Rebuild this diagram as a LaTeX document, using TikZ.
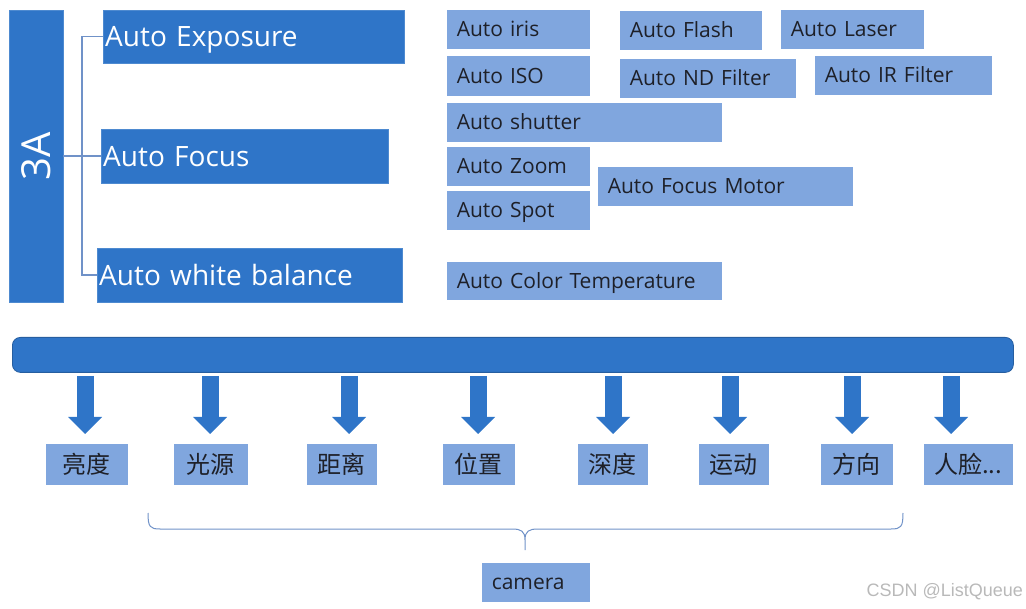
\documentclass[tikz,border=0pt]{standalone}
\usepackage{fontspec}
\usepackage{graphicx}
\setmainfont{Open Sans}
\newfontfamily\cjk{Noto Sans CJK SC}
\newfontfamily\marksans{Liberation Sans}
\usetikzlibrary{arrows.meta}
\definecolor{deepblue}{RGB}{47,117,200}
\definecolor{paleblue}{RGB}{128,166,222}
\definecolor{linkblue}{RGB}{112,146,200}
\definecolor{inkgray}{RGB}{30,32,40}

% name, x, y, width, height, text
\newcommand{\palebox}[6]{
    \node[palebox, text width=#4pt-21pt, minimum height=#5pt] (#1) at (#2,#3) {#6};
}

\begin{document}
\begin{tikzpicture}[x=1pt,y=-1pt,
    darkbox/.style={fill=deepblue, draw=deepblue!85!white, text=white, anchor=north west, inner ysep=0pt},
    headtext/.style={inner xsep=2pt, align=left, font=\fontsize{28}{32}\selectfont, text height=20pt, text depth=0pt},
    palebox/.style={fill=paleblue, draw=white, line width=.6pt, text=inkgray, anchor=north west, inner xsep=10.5pt, inner ysep=0pt, align=left, font=\fontsize{21}{24}\selectfont, text height=15pt, text depth=0pt},
    tagbox/.style={fill=paleblue, draw=white, line width=.6pt, text=inkgray, anchor=north west, inner sep=0pt, font=\cjk\fontsize{24}{28}\selectfont, text height=18pt, text depth=0pt},
    link/.style={draw=linkblue, line width=1.4pt},
    fatarrow/.style={draw=deepblue, line width=17pt, shorten <=3pt, shorten >=9pt, -{Triangle[width=34pt,length=17pt,line width=0pt]}}]

    \useasboundingbox (0,0) rectangle (1026,609);

    % 3A and its three parts
    \node[darkbox, minimum width=54pt, minimum height=292pt, font=\fontsize{40}{44}\selectfont] (a3) at (9,10) {\rotatebox{90}{3A}};
    \node[darkbox, headtext, text width=297pt, minimum height=53pt] (ae) at (103,10) {Auto Exposure};
    \node[darkbox, headtext, text width=283pt, minimum height=54pt] (af) at (101,129) {Auto Focus};
    \node[darkbox, headtext, text width=301pt, minimum height=54pt] (awb) at (97,248) {Auto white balance};

    \draw[link] (a3.east) -- (af.west);
    \draw[link] (ae.west) -- ++(-21,0) |- (awb.west);

    % small boxes
    \palebox{iris}{446}{9}{144}{40}{Auto iris}
    \palebox{flash}{619}{10}{143}{40}{Auto Flash}
    \palebox{laser}{780}{9}{144}{40}{Auto Laser}
    \palebox{iso}{446}{55}{144}{41}{Auto ISO}
    \palebox{ndf}{619}{58}{177}{40}{Auto ND Filter}
    \palebox{irf}{814}{55}{178}{40}{Auto IR Filter}
    \palebox{shutter}{446}{102}{276}{40}{Auto shutter}
    \palebox{zoom}{446}{146}{144}{40}{Auto Zoom}
    \palebox{spot}{446}{190}{144}{40}{Auto Spot}
    \palebox{afm}{597}{166}{256}{40}{Auto Focus Motor}
    \palebox{ctemp}{446}{261}{276}{39}{Auto Color Temperature}

    % bar and arrows
    \node[darkbox, draw=deepblue!80!black, line width=.8pt, rounded corners=8pt, minimum width=1001pt, minimum height=35pt] (bar) at (12,337) {};

    \foreach \n/\x/\w/\ax/\t in {1/45/83/85/亮度, 2/173/75/210/光源, 3/306/71/349/距离, 4/442/73/478/位置,
                                5/577/71/613/深度, 6/698/71/730/运动, 7/820/73/852/方向, 8/923/90/951/{人脸...}}{
      \node[tagbox, minimum width=\w pt, minimum height=42pt] (tag\n) at (\x,443) {\t};
      \draw[fatarrow] (bar.south -| \ax,0) -- (tag\n.north -| \ax,0);
    }

    % brace
    \draw[link, line width=1pt] (148,513) .. controls (148,527) and (150,529) .. (160,529) -- (512,529)
        .. controls (521,529) and (525,531) .. (525,540) -- (525,550)
        (903,513) .. controls (903,527) and (901,529) .. (891,529) -- (538,529)
        .. controls (529,529) and (525,531) .. (525,540);

    \palebox{camera}{481}{562}{109}{40}{camera}

    \node[anchor=west, text=gray!55, font=\marksans\fontsize{18}{20}\selectfont] (mark) at (863,592) {CSDN @ListQueue};

\end{tikzpicture}
\end{document}
